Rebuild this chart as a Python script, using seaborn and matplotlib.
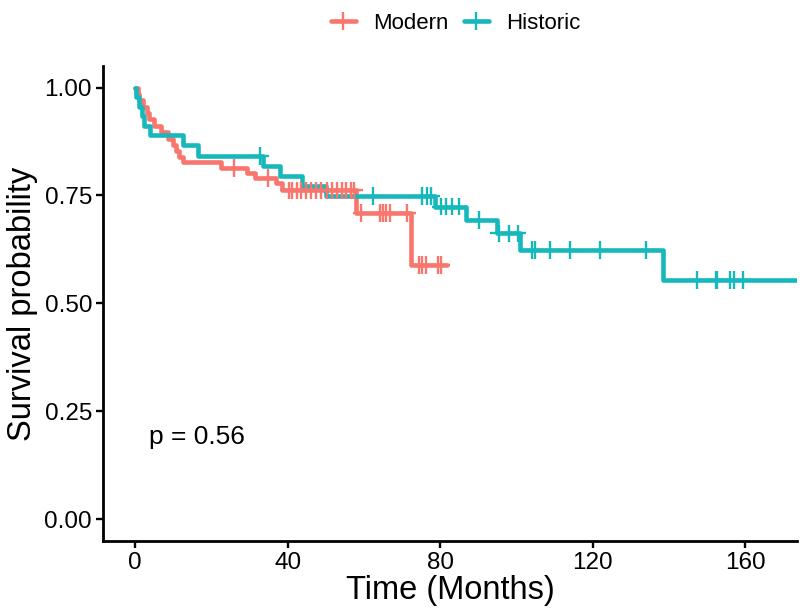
import numpy as np
import pandas as pd
import matplotlib
matplotlib.use("Agg")
import matplotlib.pyplot as plt
from matplotlib.lines import Line2D
import seaborn as sns

# ---- data ----
groups = ["Modern", "Historic"]
colors = ["#F8766D", "#17B8BC"]

modern_event_times = [0.6, 1.1, 2.0, 3.0, 3.6, 5.0, 6.8, 8.6, 9.9, 10.7, 11.5, 12.4,
                      22.4, 29.3, 31.5, 36.8, 38.6, 57.8, 72.3]
modern_surv = [0.985, 0.971, 0.956, 0.941, 0.926, 0.911, 0.896, 0.881, 0.867, 0.853,
               0.839, 0.827, 0.814, 0.801, 0.790, 0.778, 0.762, 0.709, 0.589]
modern_censor = [25.9, 34.8, 40.2, 41.0, 42.3, 43.6, 44.9, 46.2, 47.5, 48.8, 50.2,
                 51.5, 52.8, 54.1, 55.4, 56.7, 57.5, 59.3, 64.1, 65.0, 65.8, 66.7,
                 71.2, 74.5, 75.3, 76.2, 79.3, 80.2]
modern_end = 81.8

historic_event_times = [0.3, 1.1, 1.8, 2.4, 4.0, 12.4, 16.5, 33.4, 38.0, 43.8, 50.0,
                        78.7, 86.8, 94.9, 101.0, 138.3]
historic_surv = [0.978, 0.956, 0.934, 0.912, 0.889, 0.866, 0.842, 0.818, 0.796, 0.772,
                 0.749, 0.724, 0.693, 0.662, 0.624, 0.554]
historic_censor = [32.8, 62.3, 75.3, 76.4, 77.5, 80.1, 81.6, 83.2, 85.0, 90.1, 95.3,
                   97.9, 100.3, 104.0, 104.9, 108.8, 114.1, 122.0, 133.9, 147.2, 152.2,
                   152.6, 156.1, 156.9, 159.5]
historic_end = 173.5

x_ticks = [0, 40, 80, 120, 160]
y_ticks = [0.00, 0.25, 0.50, 0.75, 1.00]
y_tick_labels = ["0.00", "0.25", "0.50", "0.75", "1.00"]
p_text = "p = 0.56"

# ---- build tables ----
def step_table(name, times, surv, end):
    t = [0.0] + list(times) + [end]
    s = [1.0] + list(surv) + [surv[-1]]
    return pd.DataFrame({"time": t, "surv": s, "group": name})

def censor_table(name, times, surv, cens):
    et = np.array([0.0] + list(times))
    es = np.array([1.0] + list(surv))
    idx = np.searchsorted(et, np.array(cens), side="right") - 1
    return pd.DataFrame({"time": cens, "surv": es[idx], "group": name})

lines = pd.concat([
    step_table("Modern", modern_event_times, modern_surv, modern_end),
    step_table("Historic", historic_event_times, historic_surv, historic_end),
], ignore_index=True)
cens = pd.concat([
    censor_table("Modern", modern_event_times, modern_surv, modern_censor),
    censor_table("Historic", historic_event_times, historic_surv, historic_censor),
], ignore_index=True)

# ---- plot ----
sns.set_theme(style="white")
fam = ["Liberation Sans", "DejaVu Sans"]
plt.rcParams["font.family"] = fam
plt.rcParams["text.color"] = "black"

fig = plt.figure(figsize=(8, 6.16), dpi=100)
ax = fig.add_axes([0.129, 0.1218, 0.867, 0.7712])

palette = dict(zip(groups, colors))
sns.lineplot(data=lines, x="time", y="surv", hue="group", hue_order=groups,
             palette=palette, drawstyle="steps-post", linewidth=3.3,
             estimator=None, sort=False, legend=False, ax=ax)
sns.scatterplot(data=cens, x="time", y="surv", hue="group", hue_order=groups,
                palette=palette, marker="+", s=160, linewidth=1.7,
                legend=False, ax=ax, zorder=3)

ax.set_xlim(-8.4, 173.5)
ax.set_ylim(-0.05, 1.05)
ax.set_xticks(x_ticks)
ax.set_xticklabels([str(v) for v in x_ticks])
ax.set_yticks(y_ticks)
ax.set_yticklabels(y_tick_labels)

for side in ["top", "right"]:
    ax.spines[side].set_visible(False)
for side in ["left", "bottom"]:
    ax.spines[side].set_color("black")
    ax.spines[side].set_linewidth(2.0)
ax.tick_params(axis="both", which="major", direction="out", length=5, width=1.7,
               color="black", labelsize=17.5, labelcolor="black", pad=3,
               bottom=True, left=True)

ax.set_xlabel("Time (Months)", fontsize=23.5, color="black", labelpad=1)
ax.set_ylabel("Survival probability", fontsize=23.5, color="black", labelpad=5)

ax.text(3.5, 0.19, p_text, fontsize=19, color="black", ha="left", va="center")

handles = [Line2D([0], [0], color=c, linewidth=3.3, marker="+", markersize=13,
                  markeredgewidth=1.7) for c in colors]
fig.legend(handles, groups, loc="upper center", bbox_to_anchor=(0.57, 1.012),
           ncol=2, frameon=False, fontsize=16, handlelength=1.1,
           columnspacing=0.7, handletextpad=0.8, labelcolor="black")

fig.savefig("out.png", dpi=100)
